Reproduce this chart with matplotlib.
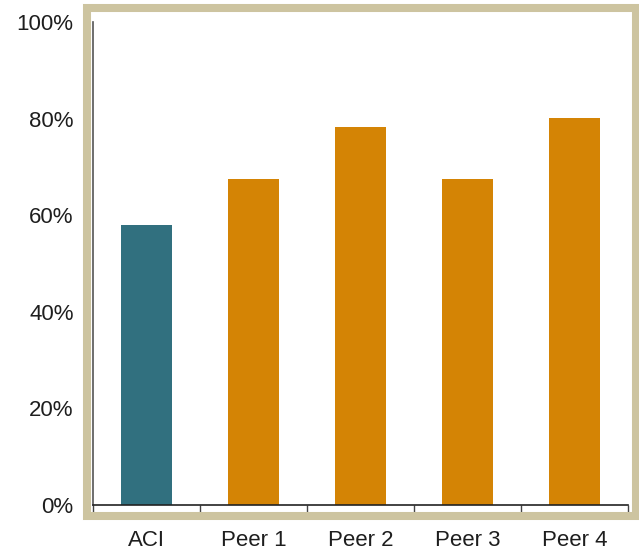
import matplotlib
matplotlib.use('Agg')
import matplotlib.pyplot as plt
from matplotlib.patches import Rectangle
from matplotlib.ticker import FixedLocator, NullFormatter
import numpy as np

categories = ['ACI', 'Peer 1', 'Peer 2', 'Peer 3', 'Peer 4']
values = [0.58, 0.675, 0.783, 0.675, 0.801]
bar_colors = ['#31707f', '#d48405', '#d48405', '#d48405', '#d48405']
y_ticks = [0, 0.2, 0.4, 0.6, 0.8, 1.0]
y_labels = ['0%', '20%', '40%', '60%', '80%', '100%']

W, H = 639, 556
fig = plt.figure(figsize=(W / 100, H / 100), dpi=100)
plt.rcParams['font.family'] = ['Liberation Sans', 'DejaVu Sans']

# frame around the plot area
fig.patches.append(Rectangle((87 / W, 1 - 516 / H), (636 - 87) / W, (516 - 7.5) / H,
                             transform=fig.transFigure, fill=False,
                             edgecolor='#cdc4a0', linewidth=5.8, zorder=0))

ax = fig.add_axes([93 / W, 1 - 505 / H, 535 / W, 483 / H])
ax.patch.set_alpha(0)
x = np.arange(len(categories))
ax.bar(x, values, width=0.47, color=bar_colors, zorder=2)

ax.set_xlim(-0.5, len(categories) - 0.5)
ax.set_ylim(0, 1.0)
ax.set_yticks(y_ticks)
ax.set_yticklabels(y_labels, fontsize=16, color='#1e1e1e')
ax.tick_params(axis='y', length=0, pad=14)

# category labels centered, tick marks on category boundaries
ax.set_xticks(x)
ax.set_xticklabels(categories, fontsize=16, color='#1e1e1e')
ax.tick_params(axis='x', which='major', length=0, pad=18)
ax.xaxis.set_minor_locator(FixedLocator(np.arange(-0.5, len(categories), 1.0)))
ax.xaxis.set_minor_formatter(NullFormatter())
ax.tick_params(axis='x', which='minor', length=5, width=1, color='#444444', direction='out')

for s in ['top', 'right']:
    ax.spines[s].set_visible(False)
ax.spines['left'].set_color('#555555')
ax.spines['left'].set_linewidth(1.2)
ax.spines['bottom'].set_color('#222222')
ax.spines['bottom'].set_linewidth(1.2)

fig.savefig('out.png', dpi=100)
